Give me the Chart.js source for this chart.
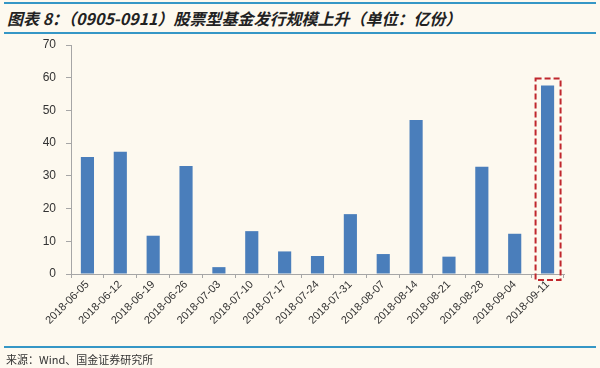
<!DOCTYPE html>
<html>
<head>
<meta charset="utf-8">
<script src="https://cdn.jsdelivr.net/npm/chart.js@4.4.1/dist/chart.umd.min.js"></script>
<style>
    html, body { margin: 0; padding: 0; background: #FDF9EF; }
    #wrap { position: relative; width: 600px; height: 368px; overflow: hidden; background: #FDF9EF; }
    #chart { position: absolute; left: 0; top: 0; }
    .rule { position: absolute; left: 4px; width: 592px; height: 2px; background: #3597C6; }
    #title {
        position: absolute; left: 7px; top: 6px;
        font-family: "Noto Sans CJK SC", sans-serif; font-size: 16px; font-weight: bold; font-style: italic;
        color: #222; white-space: nowrap;
    }
    #source {
        position: absolute; left: 6px; top: 351px;
        font-family: "Noto Sans CJK SC", serif; font-size: 11px; color: #333; white-space: nowrap;
    }
</style>
</head>
<body>
<div id="wrap">
    <div class="rule" style="top:2px"></div>
    <div id="title">图表 8：（0905-0911）股票型基金发行规模上升（单位：亿份）</div>
    <div class="rule" style="top:32px"></div>
    <canvas id="chart" width="600" height="368"></canvas>
    <div class="rule" style="top:346px"></div>
    <div id="source">来源：Wind、国金证券研究所</div>
</div>
<script>
// 周度数据
const WEEKS = [
    '2018-06-05', '2018-06-12', '2018-06-19', '2018-06-26', '2018-07-03',
    '2018-07-10', '2018-07-17', '2018-07-24', '2018-07-31', '2018-08-07',
    '2018-08-14', '2018-08-21', '2018-08-28', '2018-09-04', '2018-09-11'
];
const ISSUE_SIZE = [35.8, 37.4, 11.7, 33.0, 2.1, 13.1, 6.9, 5.5, 18.3, 6.1, 47.1, 5.3, 32.8, 12.3, 57.6];
const Y_TICKS = [0, 10, 20, 30, 40, 50, 60, 70];
const HIGHLIGHT_INDEX = WEEKS.length - 1;

const BAR_COLOR = '#4A7EBB';
const AXIS_COLOR = '#A6A6A6';

// 红色虚线框，标出最新一周
const highlightBox = {
    id: 'highlightBox',
    afterDatasetsDraw(chart) {
        const bar = chart.getDatasetMeta(0).data[HIGHLIGHT_INDEX];
        if (!bar) return;
        const cx = chart.scales.x.getPixelForValue(HIGHLIGHT_INDEX);
        const ctx = chart.ctx;
        ctx.save();
        ctx.strokeStyle = '#C0272D';
        ctx.lineWidth = 2;
        ctx.setLineDash([6, 3]);
        ctx.strokeRect(cx - 12, bar.y - 7, 25, chart.chartArea.bottom - bar.y + 13);
        ctx.restore();
    }
};

new Chart(document.getElementById('chart'), {
    type: 'bar',
    data: {
        labels: WEEKS,
        datasets: [{
            data: ISSUE_SIZE,
            backgroundColor: BAR_COLOR,
            barPercentage: 0.4,
            categoryPercentage: 1.0
        }]
    },
    options: {
        responsive: false,
        animation: false,
        events: [],
        layout: { padding: { top: 45, left: 0, right: 36, bottom: 24 } },
        plugins: { legend: { display: false }, tooltip: { enabled: false } },
        scales: {
            x: {
                afterFit(scale) { scale.height = 70; },
                border: { color: AXIS_COLOR, width: 1 },
                grid: { drawOnChartArea: false, color: AXIS_COLOR, tickLength: 4, offset: true },
                ticks: {
                    maxRotation: 45, minRotation: 45, autoSkip: false, padding: 0,
                    color: '#333', font: { family: 'Arial, "Liberation Sans"', size: 11 }
                }
            },
            y: {
                min: 0, max: 70,
                afterFit(scale) { scale.width = 71; },
                afterBuildTicks(scale) { scale.ticks = Y_TICKS.map(v => ({ value: v })); },
                border: { color: AXIS_COLOR, width: 1 },
                grid: { drawOnChartArea: false, color: AXIS_COLOR, tickLength: 5 },
                ticks: {
                    padding: 10,
                    color: '#333', font: { family: 'Arial, "Liberation Sans"', size: 12 }
                }
            }
        }
    },
    plugins: [highlightBox]
});
</script>
</body>
</html>
